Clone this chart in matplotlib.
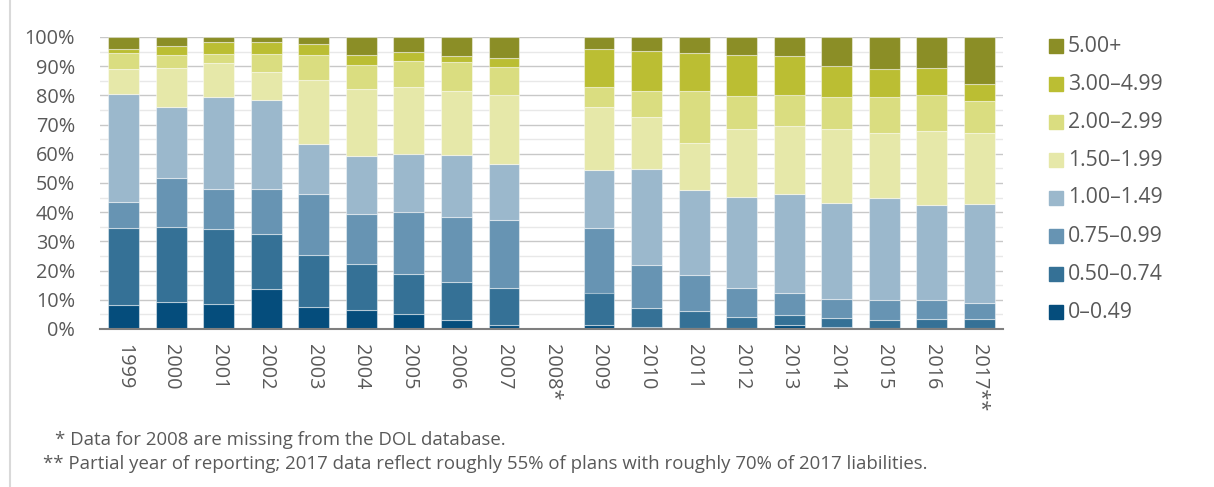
import numpy as np
import matplotlib
matplotlib.use("Agg")
import matplotlib.pyplot as plt
from matplotlib.patches import Rectangle
from matplotlib.lines import Line2D

plt.rcParams['font.family'] = ['Open Sans', 'DejaVu Sans']

years = ["1999", "2000", "2001", "2002", "2003", "2004", "2005", "2006", "2007",
         "2008*", "2009", "2010", "2011", "2012", "2013", "2014", "2015", "2016", "2017**"]
series_labels = ["0–0.49", "0.50–0.74", "0.75–0.99", "1.00–1.49",
                 "1.50–1.99", "2.00–2.99", "3.00–4.99", "5.00+"]
nan = np.nan
s_0_049 = [8.3, 9.3, 8.6, 13.8, 7.5, 6.5, 5.3, 3.1, 1.5, nan, 1.3, 0.6, 0.3, 0.5, 1.5, 0.6, 0.2, 0.5, 0.5]
s_050_074 = [26.4, 25.7, 25.8, 18.8, 17.9, 15.8, 13.6, 13.0, 12.6, nan, 11.2, 6.7, 5.9, 3.6, 3.3, 3.2, 2.9, 2.9, 2.8]
s_075_099 = [8.8, 16.8, 13.5, 15.3, 20.8, 17.1, 21.2, 22.3, 23.3, nan, 22.0, 14.6, 12.4, 9.8, 7.5, 6.6, 7.0, 6.4, 5.6]
s_100_149 = [37.0, 24.1, 31.4, 30.5, 17.1, 19.8, 20.0, 21.3, 19.1, nan, 20.0, 32.8, 29.1, 31.2, 33.9, 32.7, 34.8, 32.6, 33.8]
s_150_199 = [8.6, 13.5, 11.8, 9.6, 22.0, 23.0, 22.8, 21.8, 23.5, nan, 21.5, 17.9, 16.0, 23.4, 23.3, 25.4, 22.2, 25.3, 24.4]
s_200_299 = [5.3, 4.4, 3.1, 6.2, 8.5, 8.2, 8.9, 9.9, 9.8, nan, 6.9, 8.8, 17.8, 11.3, 10.6, 10.9, 12.3, 12.4, 11.0]
s_300_499 = [1.5, 3.2, 4.2, 4.1, 3.9, 3.4, 2.9, 2.1, 3.0, nan, 13.0, 13.8, 12.9, 13.9, 13.4, 10.7, 9.5, 9.3, 5.8]
s_500_plus = [4.1, 3.0, 1.6, 1.7, 2.3, 6.2, 5.3, 6.5, 7.2, nan, 4.1, 4.8, 5.6, 6.3, 6.5, 9.9, 11.1, 10.6, 16.1]

series = [s_0_049, s_050_074, s_075_099, s_100_149, s_150_199, s_200_299, s_300_499, s_500_plus]
colors = ["#054d7c", "#357196", "#6794b3", "#9bb8cc", "#e6e8a9", "#dadd80", "#bbbe33", "#8b8e26"]

W, H = 1214, 487
fig = plt.figure(figsize=(W / 100, H / 100), dpi=100)
ax = fig.add_axes([100 / W, 1 - 329 / H, 903 / W, 292 / H])

x = np.arange(len(years))
bottom = np.zeros(len(years))
for vals, col, lab in zip(series, colors, series_labels):
    v = np.nan_to_num(np.array(vals, dtype=float)) / 100.0
    ax.bar(x, v, width=0.65, bottom=bottom, color=col, edgecolor=(1, 1, 1, 0.45),
           linewidth=0.8, label=lab, zorder=3)
    bottom += v

ax.set_xlim(-0.5, len(years) - 0.5)
ax.set_ylim(0, 1.0)
ax.set_yticks(np.arange(0, 1.01, 0.1))
ax.set_yticklabels([f"{int(round(t * 100))}%" for t in np.arange(0, 1.01, 0.1)])
ax.set_yticks(np.arange(0.05, 1.0, 0.1), minor=True)
ax.grid(axis='y', which='major', color='#c8c8c8', linewidth=1.0, zorder=0)
ax.grid(axis='y', which='minor', color='#e8e8e8', linewidth=1.0, zorder=0)
ax.set_xticks(x)
ax.set_xticklabels(years, rotation=270, va='top', ha='center')
for s in ['top', 'right', 'left']:
    ax.spines[s].set_visible(False)
ax.spines['bottom'].set_color('#7f7f7f')
ax.spines['bottom'].set_linewidth(1.5)
ax.spines['bottom'].set_zorder(4)
ax.tick_params(axis='both', which='both', length=0, colors='#595959', labelsize=14.3)
ax.tick_params(axis='y', pad=18)
ax.tick_params(axis='x', pad=11)

# legend (top entry = highest band)
for i, (lab, col) in enumerate(zip(series_labels[::-1], colors[::-1])):
    yc = 46 + i * 38.0
    fig.patches.append(Rectangle((1049 / W, 1 - (yc + 7) / H), 14 / W, 14 / H,
                                 transform=fig.transFigure, color=col))
    fig.text(1068 / W, 1 - yc / H, lab, fontsize=15.3, color='#595959', va='center', ha='left')

fig.text(55 / W, 1 - 440 / H, "* Data for 2008 are missing from the DOL database.",
         fontsize=13.4, color='#595959', va='center', ha='left')
fig.text(43 / W, 1 - 464 / H,
         "** Partial year of reporting; 2017 data reflect roughly 55% of plans with roughly 70% of 2017 liabilities.",
         fontsize=13.4, color='#595959', va='center', ha='left')

fig.lines.append(Line2D([10 / W, 10 / W], [0, 1], transform=fig.transFigure, color='#d9d9d9', linewidth=1.5))

fig.savefig("out.png", dpi=100)
